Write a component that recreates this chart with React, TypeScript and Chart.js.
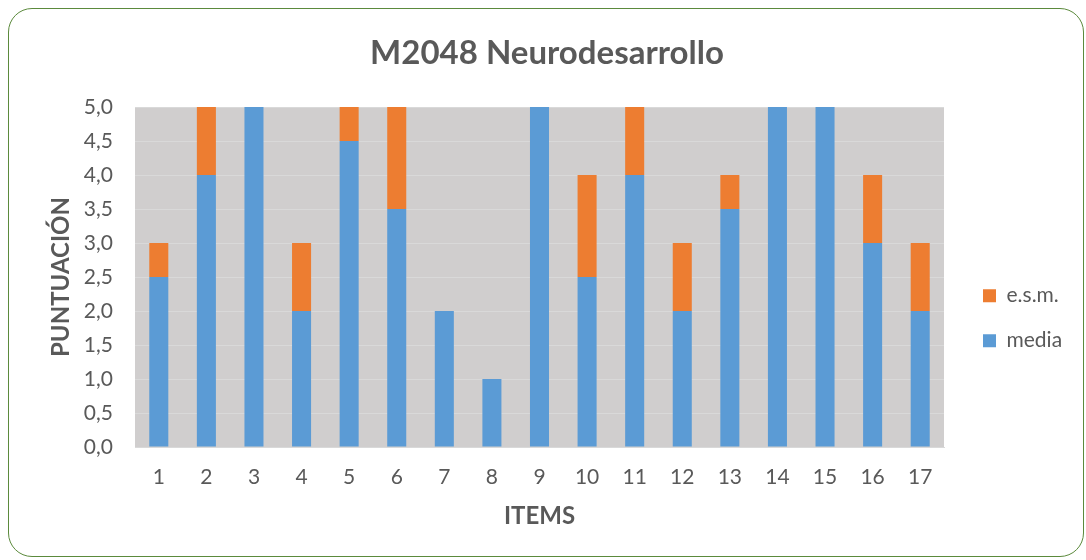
import React, { useEffect, useRef } from "react";
import { Chart, registerables } from "chart.js";

Chart.register(...registerables);

const items = ["1", "2", "3", "4", "5", "6", "7", "8", "9", "10", "11", "12", "13", "14", "15", "16", "17"];
const media = [2.5, 4, 5, 2, 4.5, 3.5, 2, 1, 5, 2.5, 4, 2, 3.5, 5, 5, 3, 2];
const esm = [0.5, 1, 0, 1, 0.5, 1.5, 0, 0, 0, 1.5, 1, 1, 0.5, 0, 0, 1, 1];
const yTickLabels = ["0,0", "0,5", "1,0", "1,5", "2,0", "2,5", "3,0", "3,5", "4,0", "4,5", "5,0"];

const TEXT = "#595959";
const FONT = "Lato, 'Noto Sans', sans-serif";

export default function App() {
  const ref = useRef<HTMLCanvasElement | null>(null);

  useEffect(() => {
    if (!ref.current) return;
    const plotBg = {
      id: "plotBg",
      beforeDraw(chart: any) {
        const { ctx, chartArea } = chart;
        ctx.save();
        ctx.fillStyle = "#D0CECE";
        ctx.fillRect(chartArea.left, chartArea.top, chartArea.right - chartArea.left, chartArea.bottom - chartArea.top);
        ctx.restore();
      },
    };
    const legendFix = {
      id: "legendFix",
      beforeLayout(chart: any) {
        const lg = chart.legend;
        if (lg && !lg.__patched) {
          const orig = lg.fit;
          lg.fit = function (this: any) {
            orig.call(this);
            this.width = 142;
          };
          lg.__patched = true;
        }
      },
      afterLayout(chart: any) {
        const lg = chart.legend;
        if (lg) {
          lg.left += 15;
          lg.right += 15;
          lg.top += 53;
          lg.bottom += 53;
        }
      },
    };

    const chart = new Chart(ref.current, {
      type: "bar",
      data: {
        labels: items,
        datasets: [
          {
            label: "media",
            data: media,
            backgroundColor: "#5B9BD5",
            borderWidth: 0,
            barPercentage: 0.4,
            categoryPercentage: 1,
          },
          {
            label: "e.s.m.",
            data: esm,
            backgroundColor: "#ED7D31",
            borderWidth: 0,
            barPercentage: 0.4,
            categoryPercentage: 1,
          },
        ],
      },
      options: {
        animation: false,
        responsive: false,
        maintainAspectRatio: false,
        layout: { padding: { left: 8, right: 0, top: 0, bottom: 29.6 } },
        plugins: {
          title: {
            display: true,
            text: "M2048 Neurodesarrollo",
            color: TEXT,
            font: { family: FONT, size: 33, weight: "bold" },
            padding: { top: 34, bottom: 107 - 34 - 33 * 1.2 },
          },
          legend: {
            position: "right",
            reverse: true,
            labels: {
              color: TEXT,
              font: { family: FONT, size: 21 },
              boxWidth: 13,
              boxHeight: 13,
              padding: 24,
            },
          },
          tooltip: { enabled: false },
        },
        scales: {
          x: {
            stacked: true,
            grid: { display: false, drawTicks: false },
            border: { display: true, color: "#D9D9D9", width: 1 },
            ticks: { color: TEXT, font: { family: FONT, size: 21 }, padding: 18 },
            title: {
              display: true,
              text: "ITEMS",
              color: TEXT,
              font: { family: FONT, size: 24, weight: "bold" },
              padding: { top: 0, bottom: 0 },
            },
            afterFit(scale: any) {
              scale.height = 83.4;
            },
          },
          y: {
            stacked: true,
            min: 0,
            max: 5,
            grid: { color: "#D9D9D9", lineWidth: 1, drawTicks: false },
            border: { display: false },
            ticks: {
              stepSize: 0.5,
              color: TEXT,
              font: { family: FONT, size: 21 },
              padding: 22,
              callback: (_v: any, i: number) => yTickLabels[i],
            },
            title: {
              display: true,
              text: "PUNTUACIÓN",
              color: TEXT,
              font: { family: FONT, size: 24, weight: "bold" },
              padding: { top: 38.6, bottom: 0 },
            },
            afterFit(scale: any) {
              scale.width = 127;
            },
          },
        },
      },
      plugins: [plotBg, legendFix],
    });
    return () => chart.destroy();
  }, []);

  return (
    <div style={{ position: "absolute", left: 0, top: 0, width: 1086, height: 560, background: "#fff" }}>
      <div
        style={{
          position: "absolute",
          left: 8,
          top: 8,
          width: 1076,
          height: 549,
          boxSizing: "border-box",
          border: "1.5px solid #5B8A3C",
          borderRadius: 24,
        }}
      />
      <canvas ref={ref} width={1086} height={560} style={{ position: "absolute", left: 0, top: 0, width: 1086, height: 560 }} />
    </div>
  );
}
